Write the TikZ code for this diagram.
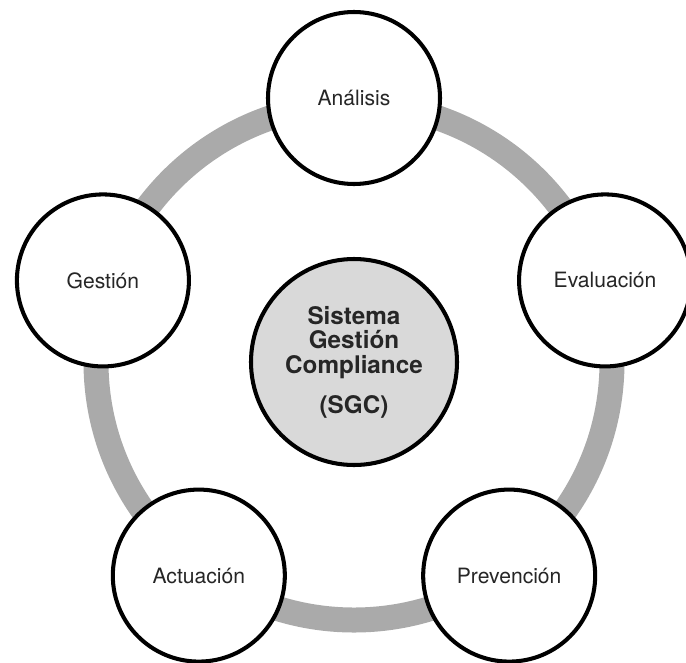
\documentclass[tikz,border=0pt]{standalone}
\usepackage{fontspec}
\setmainfont{TeX Gyre Heros}
\usepackage{tikz}
\definecolor{ringgray}{HTML}{AAAAAA}
\definecolor{coregray}{HTML}{D9D9D9}
\tikzset{node distance=2cm, auto}

\begin{document}
\begin{tikzpicture}
\useasboundingbox (-7.08,-6.0) rectangle (6.64,7.24);
%\tikzstyle{every node} = [circle, fill=gray!30]
\tikzstyle{every node} = [circle, draw, line width=2.3pt, inner sep=0pt, text=black!85]
\tikzstyle{stage} = [minimum size=3.44cm, fill=white, font=\fontsize{12}{14}\selectfont]
\tikzstyle{core} = [minimum size=4.12cm, fill=coregray, align=center, font=\bfseries\fontsize{13.8}{14}\selectfont]
\node[core] (sgc) at (0, 0) {Sistema\\Gestión\\Compliance\\[0.3cm](SGC)};
\draw [ringgray, line width=0.5cm] (sgc.center) circle (5.16);
\node[stage] (analisis) at +(90: 5.28) {Análisis};
\node[stage] (evaluacion) at +(18: 5.28) {Evaluación};
\node[stage] (prevencion) at +(-54: 5.28) {Prevención};
\node[stage] (actuacion) at +(234: 5.28) {Actuación};
\node[stage] (gestion) at +(162: 5.28) {Gestión};
\end{tikzpicture}
\end{document}
